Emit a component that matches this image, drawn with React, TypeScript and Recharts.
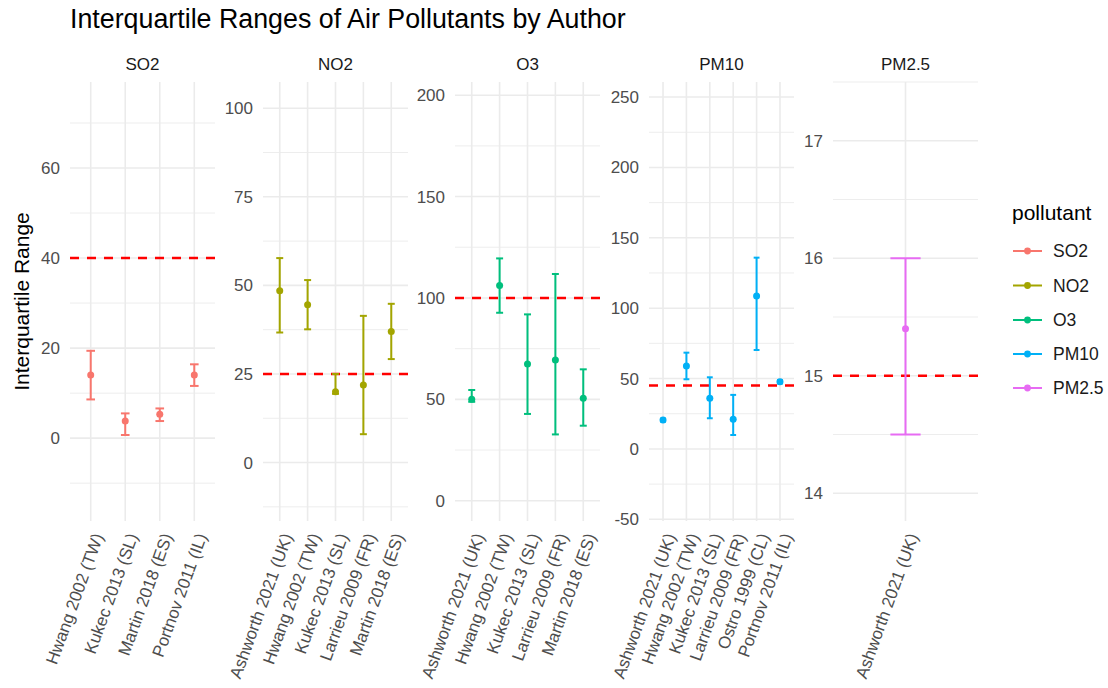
import React from 'react';
import {
  ComposedChart,
  Scatter,
  ErrorBar,
  XAxis,
  YAxis,
  CartesianGrid,
  ReferenceLine,
} from 'recharts';

const FONT = '"Liberation Sans", Arial, Helvetica, sans-serif';

// ---------- data ----------
const pollutants = ['SO2', 'NO2', 'O3', 'PM10', 'PM2.5'];
const pollutantColors = ['#F8766D', '#A3A500', '#00BF7D', '#00B0F6', '#E76BF3'];
const guidelineValues = [40, 25, 100, 45, 15];

const so2Authors = ['Hwang 2002 (TW)', 'Kukec 2013 (SL)', 'Martin 2018 (ES)', 'Portnov 2011 (IL)'];
const so2Median = [14, 3.8, 5.3, 14];
const so2Lower = [8.6, 0.7, 3.8, 11.6];
const so2Upper = [19.4, 5.5, 6.6, 16.4];

const no2Authors = ['Ashworth 2021 (UK)', 'Hwang 2002 (TW)', 'Kukec 2013 (SL)', 'Larrieu 2009 (FR)', 'Martin 2018 (ES)'];
const no2Median = [48.5, 44.5, 20.0, 21.9, 37.0];
const no2Lower = [36.7, 37.6, 19.4, 8.0, 29.2];
const no2Upper = [57.7, 51.5, 25.0, 41.4, 44.8];

const o3Authors = ['Ashworth 2021 (UK)', 'Hwang 2002 (TW)', 'Kukec 2013 (SL)', 'Larrieu 2009 (FR)', 'Martin 2018 (ES)'];
const o3Median = [50, 106.2, 67.4, 69.4, 50.5];
const o3Lower = [48.8, 92.7, 42.8, 32.7, 37.0];
const o3Upper = [54.6, 119.5, 91.9, 111.8, 64.8];

const pm10Authors = ['Ashworth 2021 (UK)', 'Hwang 2002 (TW)', 'Kukec 2013 (SL)', 'Larrieu 2009 (FR)', 'Ostro 1999 (CL)', 'Portnov 2011 (IL)'];
const pm10Median = [20.6, 59, 36, 21.1, 108.7, 47.8];
const pm10Lower = [19.5, 49.5, 21.8, 9.9, 70.3, 46.6];
const pm10Upper = [21.6, 68.4, 50.9, 38.4, 135.9, 49.0];

const pm25Authors = ['Ashworth 2021 (UK)'];
const pm25Median = [15.4];
const pm25Lower = [14.5];
const pm25Upper = [16.0];

const yDomainMin = [-18.4, -16.5, -10, -51.2, 13.764];
const yDomainMax = [79.1, 107.4, 206.5, 260.7, 17.5];

const so2MajorTicks = [0, 20, 40, 60];
const so2MinorTicks = [-10, 10, 30, 50, 70];
const no2MajorTicks = [0, 25, 50, 75, 100];
const no2MinorTicks = [-12.5, 12.5, 37.5, 62.5, 87.5];
const o3MajorTicks = [0, 50, 100, 150, 200];
const o3MinorTicks = [25, 75, 125, 175];
const pm10MajorTicks = [-50, 0, 50, 100, 150, 200, 250];
const pm10MinorTicks = [-25, 25, 75, 125, 175, 225];
const pm25MajorTicks = [14, 15, 16, 17];
const pm25MinorTicks = [14.5, 15.5, 16.5, 17.5];

const authorsBy = [so2Authors, no2Authors, o3Authors, pm10Authors, pm25Authors];
const medianBy = [so2Median, no2Median, o3Median, pm10Median, pm25Median];
const lowerBy = [so2Lower, no2Lower, o3Lower, pm10Lower, pm25Lower];
const upperBy = [so2Upper, no2Upper, o3Upper, pm10Upper, pm25Upper];
const majorBy = [so2MajorTicks, no2MajorTicks, o3MajorTicks, pm10MajorTicks, pm25MajorTicks];
const minorBy = [so2MinorTicks, no2MinorTicks, o3MinorTicks, pm10MinorTicks, pm25MinorTicks];

// ---------- layout ----------
const PANEL_LEFT = [70, 263, 455, 649, 833];
const PANEL_TOP = 82;
const PANEL_W = 145;
const PANEL_H = 439;
const Y_AXIS_W = 60;
const M_TOP = 10;
const M_RIGHT = 10;
const X_AXIS_H = 688 - (PANEL_TOP + PANEL_H);
const GRID = '#EBEBEB';

function XTick(props: any) {
  const { x, y, payload, labels } = props;
  const label = labels[Math.round(payload.value) - 1];
  return (
    <g transform={`translate(${x + 13},${y + 15})`}>
      <text transform="rotate(-70)" textAnchor="end" fontSize={17} fill="#4D4D4D" fontFamily={FONT}>
        {label}
      </text>
    </g>
  );
}

function Facet({ idx }: { idx: number }) {
  const authors = authorsBy[idx];
  const med = medianBy[idx];
  const lo = lowerBy[idx];
  const hi = upperBy[idx];
  const n = authors.length;
  const rows = authors.map((a, i) => ({
    pos: i + 1,
    author: a,
    value: med[i],
    err: [med[i] - lo[i], hi[i] - med[i]],
  }));
  const unitPx = PANEL_W / (n + 0.2);
  const capHalf = 0.125 * unitPx;
  const color = pollutantColors[idx];
  const width = Y_AXIS_W + PANEL_W + M_RIGHT;
  const height = M_TOP + PANEL_H + X_AXIS_H;
  return (
    <div style={{ position: 'absolute', left: PANEL_LEFT[idx] - Y_AXIS_W, top: PANEL_TOP - M_TOP }}>
      <ComposedChart
        width={width}
        height={height}
        data={rows}
        margin={{ top: M_TOP, right: M_RIGHT, bottom: 0, left: 0 }}
      >
        <CartesianGrid
          horizontalValues={minorBy[idx]}
          vertical={false}
          syncWithTicks
          stroke={GRID}
          strokeWidth={0.9}
        />
        <CartesianGrid syncWithTicks stroke={GRID} strokeWidth={1.6} />
        <XAxis
          type="number"
          dataKey="pos"
          domain={[0.4, n + 0.6]}
          ticks={authors.map((_, i) => i + 1)}
          interval={0}
          allowDataOverflow
          axisLine={false}
          tickLine={false}
          tickSize={0}
          tickMargin={0}
          height={X_AXIS_H}
          tick={(p: any) => <XTick {...p} labels={authors} />}
        />
        <YAxis
          type="number"
          dataKey="value"
          domain={[yDomainMin[idx], yDomainMax[idx]]}
          ticks={majorBy[idx]}
          interval={0}
          allowDataOverflow
          width={Y_AXIS_W}
          axisLine={false}
          tickLine={false}
          tickSize={0}
          tickMargin={10}
          tick={{ fontSize: 17, fill: '#4D4D4D', fontFamily: FONT }}
        />
        <ReferenceLine
          y={guidelineValues[idx]}
          stroke="#FF0000"
          strokeWidth={2.5}
          strokeDasharray="9 8"
        />
        <Scatter
          dataKey="value"
          fill={color}
          isAnimationActive={false}
          shape={(p: any) => <circle cx={p.cx} cy={p.cy} r={3.5} fill={color} />}
        >
          <ErrorBar
            dataKey="err"
            direction="y"
            width={capHalf}
            strokeWidth={2}
            stroke={color}
            isAnimationActive={false}
          />
        </Scatter>
      </ComposedChart>
    </div>
  );
}

const LEGEND_Y = [251, 285.5, 320, 354, 388];

export default function App() {
  return (
    <div
      style={{
        position: 'absolute',
        left: 0,
        top: 0,
        width: 1108,
        height: 688,
        background: '#FFFFFF',
        overflow: 'hidden',
      }}
    >
      {pollutants.map((_, i) => (
        <Facet key={i} idx={i} />
      ))}
      <svg
        width={1108}
        height={688}
        style={{ position: 'absolute', left: 0, top: 0, pointerEvents: 'none' }}
        fontFamily={FONT}
      >
        <text x={70} y={28} fontSize={26.8} fill="#000000">
          Interquartile Ranges of Air Pollutants by Author
        </text>
        <text
          transform={`translate(29,${PANEL_TOP + PANEL_H / 2}) rotate(-90)`}
          textAnchor="middle"
          fontSize={21}
          fill="#000000"
        >
          Interquartile Range
        </text>
        {pollutants.map((p, i) => (
          <text
            key={p}
            x={PANEL_LEFT[i] + PANEL_W / 2}
            y={70}
            textAnchor="middle"
            fontSize={17}
            fill="#1A1A1A"
          >
            {p}
          </text>
        ))}
        <text x={1012} y={220} fontSize={21} fill="#000000">
          pollutant
        </text>
        {pollutants.map((p, i) => (
          <g key={p}>
            <line x1={1013} x2={1042} y1={LEGEND_Y[i]} y2={LEGEND_Y[i]} stroke={pollutantColors[i]} strokeWidth={2} />
            <circle cx={1027.5} cy={LEGEND_Y[i]} r={3.4} fill={pollutantColors[i]} />
            <text x={1053} y={LEGEND_Y[i]} dominantBaseline="central" fontSize={17.5} fill="#1A1A1A">
              {p}
            </text>
          </g>
        ))}
      </svg>
    </div>
  );
}
